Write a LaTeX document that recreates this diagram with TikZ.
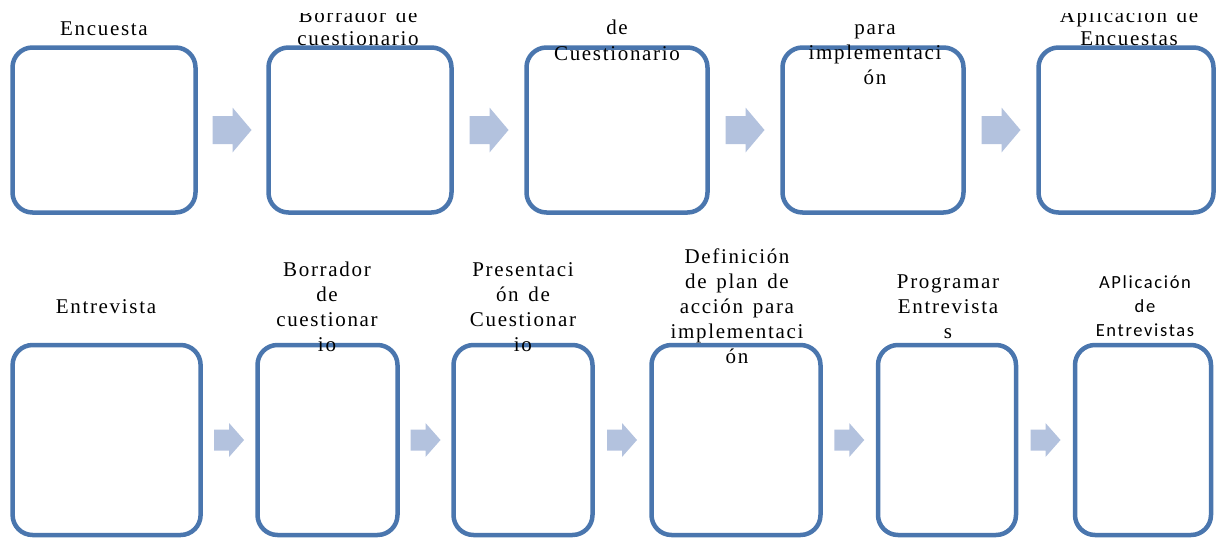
\documentclass[tikz,border=0pt]{standalone}
\usepackage{fontspec}
\usetikzlibrary{calc}
\newfontfamily\serf[LetterSpace=8,WordSpace=1.4]{Liberation Serif}
\newfontfamily\sanf[LetterSpace=9]{Carlito}
\definecolor{boxc}{HTML}{4A76AE}
\definecolor{arrc}{HTML}{B3C2DE}
\begin{document}
\begin{tikzpicture}[x=1pt,y=-1pt,
  stage/.style={draw=boxc,line width=4.5pt,rounded corners=20pt,inner sep=0pt,fill=white},
  lbl/.style={font=\serf\fontsize{21}{25}\selectfont,align=center,inner sep=0pt,anchor=base},
  slbl/.style={font=\sanf\fontsize{18.5}{24}\selectfont,align=center,inner sep=0pt,anchor=base},
  pics/bigarrow/.style={code={\fill[arrc] (-19.5,-14)--(0.5,-14)--(0.5,-22.5)--(19.5,0)--(0.5,22.5)--(0.5,14)--(-19.5,14)--cycle;}},
  pics/smallarrow/.style={code={\fill[arrc] (-15,-10.5)--(0,-10.5)--(0,-17)--(15,0)--(0,17)--(0,10.5)--(-15,10.5)--cycle;}}
]
\useasboundingbox (0,0) rectangle (1216,538);
% top row boxes
\node[stage,minimum width=183pt,minimum height=165pt] (a1) at (104,130) {};
\node[stage,minimum width=183pt,minimum height=165pt] (a2) at (360,130) {};
\node[stage,minimum width=181pt,minimum height=165pt] (a3) at (617,130) {};
\node[stage,minimum width=181pt,minimum height=165pt] (a4) at (873,130) {};
\node[stage,minimum width=175pt,minimum height=165pt] (a5) at (1126,130) {};
% bottom row boxes
\node[stage,minimum width=188pt,minimum height=190pt] (b1) at (106.6,440) {};
\node[stage,minimum width=140pt,minimum height=190pt] (b2) at (327.5,440) {};
\node[stage,minimum width=139pt,minimum height=190pt] (b3) at (523,440) {};
\node[stage,minimum width=169pt,minimum height=190pt] (b4) at (736,440) {};
\node[stage,minimum width=138pt,minimum height=190pt] (b5) at (947,440) {};
\node[stage,minimum width=136pt,minimum height=190pt] (b6) at (1143,440) {};
% arrows
\foreach \p/\q in {a1/a2,a2/a3,a3/a4,a4/a5}
  \pic at ($(\p.east)!0.5!(\q.west)$) {bigarrow};
\foreach \p/\q in {b1/b2,b2/b3,b3/b4,b4/b5,b5/b6}
  \pic at ($(\p.east)!0.5!(\q.west)$) {smallarrow};
% top row labels (clipped at top like the source); anchor=base is the last line
\begin{scope}
\clip (0,13) rectangle (1216,538);
\node[lbl] (ta1) at (104,35) {Encuesta};
\node[lbl] (ta2) at (358,45) {Borrador de\\[-2pt]cuestionario};
\node[lbl] (ta3) at (617,60) {de\\[1pt]Cuestionario};
\node[lbl] (ta4) at (875,84) {para\\implementaci\\ón};
\node[lbl] (ta5) at (1129,45) {Aplicación de\\[-2pt]Encuestas};
\end{scope}
% bottom row labels
\node[lbl] (tb1) at (106,313) {Entrevista};
\node[lbl] (tb2) at (327,351) {Borrador\\de\\cuestionar\\io};
\node[lbl] (tb3) at (523,351) {Presentaci\\ón de\\Cuestionar\\io};
\node[lbl] (tb4) at (737,363) {Definición\\de plan de\\acción para\\implementaci\\ón};
\node[lbl] (tb5) at (948,338) {Programar\\Entrevista\\s};
\node[slbl] (tb6) at (1145,336) {APlicación\\de\\Entrevistas};
\end{tikzpicture}
\end{document}
